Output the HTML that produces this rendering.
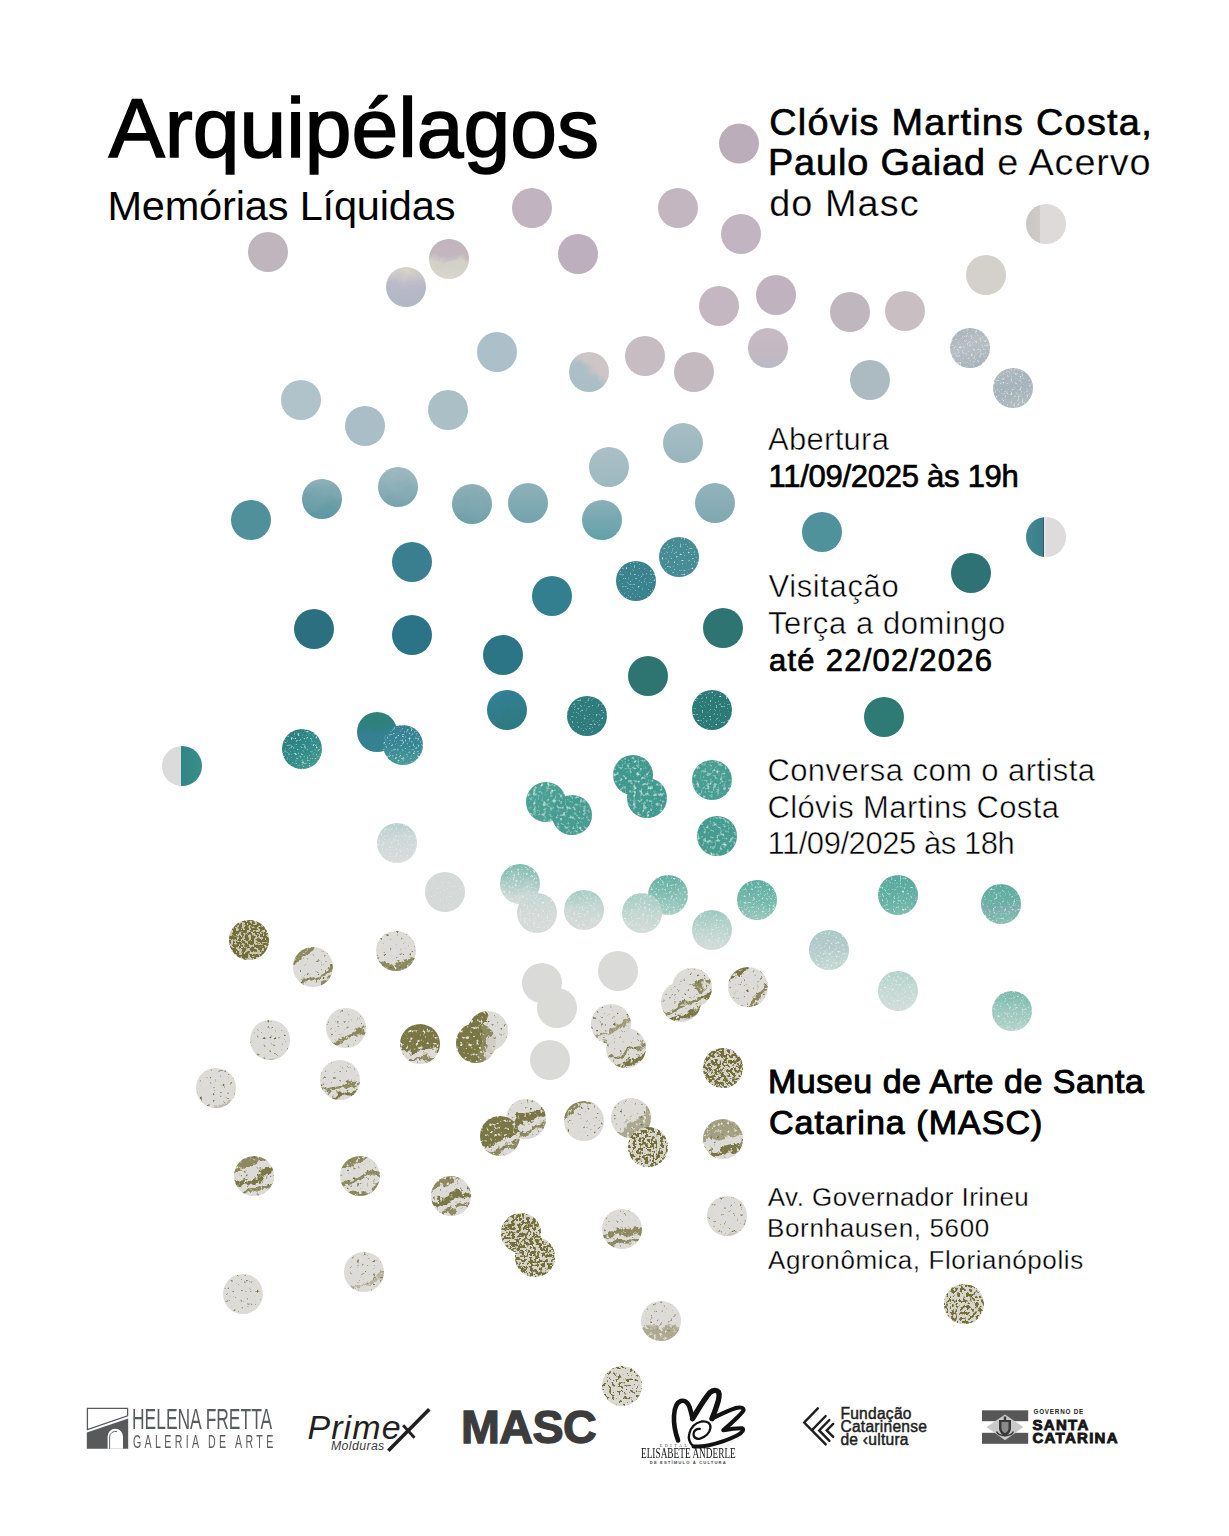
<!DOCTYPE html>
<html lang="pt-BR"><head><meta charset="utf-8"><title>Arquipélagos — Memórias Líquidas</title>
<style>
html,body{margin:0;padding:0;background:#fff}
body{width:1229px;height:1536px;position:relative;overflow:hidden;font-family:"Liberation Sans", Arial, sans-serif}
.dots{position:absolute;left:0;top:0;display:block}
.t{position:absolute;white-space:nowrap;line-height:1;font-weight:400}
.ti{-webkit-text-stroke:1.6px #000}
.lt{-webkit-text-stroke:0.5px #fff}
.lt2{-webkit-text-stroke:0.3px #fff}
.lt3{-webkit-text-stroke:0.25px #fff}
.sb{-webkit-text-stroke:0.7px #000}
.sb2{-webkit-text-stroke:1px #000}
.lg{position:absolute;display:block;overflow:visible}
.lgt{font-weight:400}
.fcc{font-size:15.6px;font-weight:400;color:#1e1e1e;-webkit-text-stroke:0.45px #1e1e1e;letter-spacing:0.25px}
.sc{font-size:15px;font-weight:700;color:#161616;-webkit-text-stroke:0.9px #161616}
</style></head><body>
<svg class="dots" width="1229" height="1536" viewBox="0 0 1229 1536"><defs><clipPath id="cc" clipPathUnits="objectBoundingBox"><circle cx=".5" cy=".5" r=".35714"/></clipPath>
<filter id="spk" x="0" y="0" width="1" height="1" color-interpolation-filters="sRGB">
<feTurbulence type="fractalNoise" baseFrequency="0.3" numOctaves="2" seed="3" result="n"/>
<feColorMatrix in="n" type="matrix" values="0 0 0 0 .88 0 0 0 0 .94 0 0 0 0 .92 2.6 0 0 0 -1.32" result="w0"/>
<feGaussianBlur in="w0" stdDeviation="0.7" result="w"/>
<feComposite in="w" in2="SourceAlpha" operator="in" result="wc"/>
<feMerge><feMergeNode in="SourceGraphic"/><feMergeNode in="wc"/></feMerge>
</filter>
<filter id="spk2" x="0" y="0" width="1" height="1" color-interpolation-filters="sRGB">
<feTurbulence type="fractalNoise" baseFrequency="0.5" numOctaves="2" seed="5" result="n"/>
<feColorMatrix in="n" type="matrix" values="0 0 0 0 .85 0 0 0 0 .93 0 0 0 0 .93 5 0 0 0 -3.15" result="w0"/>
<feGaussianBlur in="w0" stdDeviation="0.35" result="w"/>
<feComposite in="w" in2="SourceAlpha" operator="in" result="wc"/>
<feMerge><feMergeNode in="SourceGraphic"/><feMergeNode in="wc"/></feMerge>
</filter>
<filter id="ws0" x="0" y="0" width="1" height="1" color-interpolation-filters="sRGB">
<feTurbulence type="fractalNoise" baseFrequency="0.06" numOctaves="3" seed="9" result="n"/>
<feDisplacementMap in="SourceGraphic" in2="n" scale="12" xChannelSelector="R" yChannelSelector="G" result="d"/>
<feTurbulence type="fractalNoise" baseFrequency="0.45" numOctaves="2" seed="13" result="g"/>
<feColorMatrix in="g" type="matrix" values="0 0 0 0 .9 0 0 0 0 .95 0 0 0 0 .94 3.2 0 0 0 -1.8" result="gw0"/>
<feGaussianBlur in="gw0" stdDeviation="0.4" result="gw"/>
<feComposite in="gw" in2="d" operator="in" result="gwc"/>
<feMerge><feMergeNode in="d"/><feMergeNode in="gwc"/></feMerge>
</filter>
<filter id="w0" x="0" y="0" width="1" height="1" color-interpolation-filters="sRGB">
<feTurbulence type="fractalNoise" baseFrequency="0.07" numOctaves="3" seed="2" result="n"/>
<feDisplacementMap in="SourceGraphic" in2="n" scale="12" xChannelSelector="R" yChannelSelector="G"/>
</filter>
<filter id="o0" x="0" y="0" width="1" height="1" color-interpolation-filters="sRGB">
<feTurbulence type="fractalNoise" baseFrequency="0.08" numOctaves="4" seed="1" result="n"/>
<feDisplacementMap in="SourceGraphic" in2="n" scale="16" xChannelSelector="R" yChannelSelector="G" result="d"/>
<feTurbulence type="fractalNoise" baseFrequency="0.3" numOctaves="2" seed="4" result="g"/>
<feColorMatrix in="g" type="matrix" values="0 0 0 0 .88 0 0 0 0 .87 0 0 0 0 .84 6 0 0 0 -3.45" result="gl"/>
<feColorMatrix in="g" type="matrix" values="0 0 0 0 .45 0 0 0 0 .44 0 0 0 0 .27 0 -6 0 0 2.05" result="gd"/>
<feMerge><feMergeNode in="d"/><feMergeNode in="gl"/><feMergeNode in="gd"/></feMerge>
</filter>
<filter id="ws1" x="0" y="0" width="1" height="1" color-interpolation-filters="sRGB">
<feTurbulence type="fractalNoise" baseFrequency="0.06" numOctaves="3" seed="12" result="n"/>
<feDisplacementMap in="SourceGraphic" in2="n" scale="12" xChannelSelector="R" yChannelSelector="G" result="d"/>
<feTurbulence type="fractalNoise" baseFrequency="0.45" numOctaves="2" seed="16" result="g"/>
<feColorMatrix in="g" type="matrix" values="0 0 0 0 .9 0 0 0 0 .95 0 0 0 0 .94 3.2 0 0 0 -1.8" result="gw0"/>
<feGaussianBlur in="gw0" stdDeviation="0.4" result="gw"/>
<feComposite in="gw" in2="d" operator="in" result="gwc"/>
<feMerge><feMergeNode in="d"/><feMergeNode in="gwc"/></feMerge>
</filter>
<filter id="w1" x="0" y="0" width="1" height="1" color-interpolation-filters="sRGB">
<feTurbulence type="fractalNoise" baseFrequency="0.07" numOctaves="3" seed="7" result="n"/>
<feDisplacementMap in="SourceGraphic" in2="n" scale="12" xChannelSelector="R" yChannelSelector="G"/>
</filter>
<filter id="o1" x="0" y="0" width="1" height="1" color-interpolation-filters="sRGB">
<feTurbulence type="fractalNoise" baseFrequency="0.08" numOctaves="4" seed="8" result="n"/>
<feDisplacementMap in="SourceGraphic" in2="n" scale="16" xChannelSelector="R" yChannelSelector="G" result="d"/>
<feTurbulence type="fractalNoise" baseFrequency="0.3" numOctaves="2" seed="11" result="g"/>
<feColorMatrix in="g" type="matrix" values="0 0 0 0 .88 0 0 0 0 .87 0 0 0 0 .84 6 0 0 0 -3.45" result="gl"/>
<feColorMatrix in="g" type="matrix" values="0 0 0 0 .45 0 0 0 0 .44 0 0 0 0 .27 0 -6 0 0 2.05" result="gd"/>
<feMerge><feMergeNode in="d"/><feMergeNode in="gl"/><feMergeNode in="gd"/></feMerge>
</filter>
<filter id="ws2" x="0" y="0" width="1" height="1" color-interpolation-filters="sRGB">
<feTurbulence type="fractalNoise" baseFrequency="0.06" numOctaves="3" seed="15" result="n"/>
<feDisplacementMap in="SourceGraphic" in2="n" scale="12" xChannelSelector="R" yChannelSelector="G" result="d"/>
<feTurbulence type="fractalNoise" baseFrequency="0.45" numOctaves="2" seed="19" result="g"/>
<feColorMatrix in="g" type="matrix" values="0 0 0 0 .9 0 0 0 0 .95 0 0 0 0 .94 3.2 0 0 0 -1.8" result="gw0"/>
<feGaussianBlur in="gw0" stdDeviation="0.4" result="gw"/>
<feComposite in="gw" in2="d" operator="in" result="gwc"/>
<feMerge><feMergeNode in="d"/><feMergeNode in="gwc"/></feMerge>
</filter>
<filter id="w2" x="0" y="0" width="1" height="1" color-interpolation-filters="sRGB">
<feTurbulence type="fractalNoise" baseFrequency="0.07" numOctaves="3" seed="12" result="n"/>
<feDisplacementMap in="SourceGraphic" in2="n" scale="12" xChannelSelector="R" yChannelSelector="G"/>
</filter>
<filter id="o2" x="0" y="0" width="1" height="1" color-interpolation-filters="sRGB">
<feTurbulence type="fractalNoise" baseFrequency="0.08" numOctaves="4" seed="15" result="n"/>
<feDisplacementMap in="SourceGraphic" in2="n" scale="16" xChannelSelector="R" yChannelSelector="G" result="d"/>
<feTurbulence type="fractalNoise" baseFrequency="0.3" numOctaves="2" seed="18" result="g"/>
<feColorMatrix in="g" type="matrix" values="0 0 0 0 .88 0 0 0 0 .87 0 0 0 0 .84 6 0 0 0 -3.45" result="gl"/>
<feColorMatrix in="g" type="matrix" values="0 0 0 0 .45 0 0 0 0 .44 0 0 0 0 .27 0 -6 0 0 2.05" result="gd"/>
<feMerge><feMergeNode in="d"/><feMergeNode in="gl"/><feMergeNode in="gd"/></feMerge>
</filter>
<filter id="ws3" x="0" y="0" width="1" height="1" color-interpolation-filters="sRGB">
<feTurbulence type="fractalNoise" baseFrequency="0.06" numOctaves="3" seed="18" result="n"/>
<feDisplacementMap in="SourceGraphic" in2="n" scale="12" xChannelSelector="R" yChannelSelector="G" result="d"/>
<feTurbulence type="fractalNoise" baseFrequency="0.45" numOctaves="2" seed="22" result="g"/>
<feColorMatrix in="g" type="matrix" values="0 0 0 0 .9 0 0 0 0 .95 0 0 0 0 .94 3.2 0 0 0 -1.8" result="gw0"/>
<feGaussianBlur in="gw0" stdDeviation="0.4" result="gw"/>
<feComposite in="gw" in2="d" operator="in" result="gwc"/>
<feMerge><feMergeNode in="d"/><feMergeNode in="gwc"/></feMerge>
</filter>
<filter id="w3" x="0" y="0" width="1" height="1" color-interpolation-filters="sRGB">
<feTurbulence type="fractalNoise" baseFrequency="0.07" numOctaves="3" seed="17" result="n"/>
<feDisplacementMap in="SourceGraphic" in2="n" scale="12" xChannelSelector="R" yChannelSelector="G"/>
</filter>
<filter id="o3" x="0" y="0" width="1" height="1" color-interpolation-filters="sRGB">
<feTurbulence type="fractalNoise" baseFrequency="0.08" numOctaves="4" seed="22" result="n"/>
<feDisplacementMap in="SourceGraphic" in2="n" scale="16" xChannelSelector="R" yChannelSelector="G" result="d"/>
<feTurbulence type="fractalNoise" baseFrequency="0.3" numOctaves="2" seed="25" result="g"/>
<feColorMatrix in="g" type="matrix" values="0 0 0 0 .88 0 0 0 0 .87 0 0 0 0 .84 6 0 0 0 -3.45" result="gl"/>
<feColorMatrix in="g" type="matrix" values="0 0 0 0 .45 0 0 0 0 .44 0 0 0 0 .27 0 -6 0 0 2.05" result="gd"/>
<feMerge><feMergeNode in="d"/><feMergeNode in="gl"/><feMergeNode in="gd"/></feMerge>
</filter>
<filter id="pp75_21" x="0" y="0" width="1" height="1" color-interpolation-filters="sRGB">
<feTurbulence type="fractalNoise" baseFrequency="0.33" numOctaves="2" seed="21" result="n"/>
<feColorMatrix in="n" type="matrix" values="0 0 0 0 .45 0 0 0 0 .43 0 0 0 0 .22 14 0 0 0 -6.020" result="ol"/>
<feComposite in="ol" in2="SourceAlpha" operator="in" result="olc"/>
<feMerge><feMergeNode in="SourceGraphic"/><feMergeNode in="olc"/></feMerge>
</filter><filter id="pp62_21" x="0" y="0" width="1" height="1" color-interpolation-filters="sRGB">
<feTurbulence type="fractalNoise" baseFrequency="0.33" numOctaves="2" seed="21" result="n"/>
<feColorMatrix in="n" type="matrix" values="0 0 0 0 .45 0 0 0 0 .43 0 0 0 0 .22 14 0 0 0 -6.530" result="ol"/>
<feComposite in="ol" in2="SourceAlpha" operator="in" result="olc"/>
<feMerge><feMergeNode in="SourceGraphic"/><feMergeNode in="olc"/></feMerge>
</filter><filter id="pp55_24" x="0" y="0" width="1" height="1" color-interpolation-filters="sRGB">
<feTurbulence type="fractalNoise" baseFrequency="0.33" numOctaves="2" seed="24" result="n"/>
<feColorMatrix in="n" type="matrix" values="0 0 0 0 .45 0 0 0 0 .43 0 0 0 0 .22 14 0 0 0 -6.804" result="ol"/>
<feComposite in="ol" in2="SourceAlpha" operator="in" result="olc"/>
<feMerge><feMergeNode in="SourceGraphic"/><feMergeNode in="olc"/></feMerge>
</filter><filter id="pp62_20" x="0" y="0" width="1" height="1" color-interpolation-filters="sRGB">
<feTurbulence type="fractalNoise" baseFrequency="0.33" numOctaves="2" seed="20" result="n"/>
<feColorMatrix in="n" type="matrix" values="0 0 0 0 .45 0 0 0 0 .43 0 0 0 0 .22 14 0 0 0 -6.530" result="ol"/>
<feComposite in="ol" in2="SourceAlpha" operator="in" result="olc"/>
<feMerge><feMergeNode in="SourceGraphic"/><feMergeNode in="olc"/></feMerge>
</filter><filter id="pp60_21" x="0" y="0" width="1" height="1" color-interpolation-filters="sRGB">
<feTurbulence type="fractalNoise" baseFrequency="0.33" numOctaves="2" seed="21" result="n"/>
<feColorMatrix in="n" type="matrix" values="0 0 0 0 .45 0 0 0 0 .43 0 0 0 0 .22 14 0 0 0 -6.608" result="ol"/>
<feComposite in="ol" in2="SourceAlpha" operator="in" result="olc"/>
<feMerge><feMergeNode in="SourceGraphic"/><feMergeNode in="olc"/></feMerge>
</filter><filter id="pp47_24" x="0" y="0" width="1" height="1" color-interpolation-filters="sRGB">
<feTurbulence type="fractalNoise" baseFrequency="0.33" numOctaves="2" seed="24" result="n"/>
<feColorMatrix in="n" type="matrix" values="0 0 0 0 .45 0 0 0 0 .43 0 0 0 0 .22 14 0 0 0 -7.118" result="ol"/>
<feComposite in="ol" in2="SourceAlpha" operator="in" result="olc"/>
<feMerge><feMergeNode in="SourceGraphic"/><feMergeNode in="olc"/></feMerge>
</filter><filter id="pp22_21" x="0" y="0" width="1" height="1" color-interpolation-filters="sRGB">
<feTurbulence type="fractalNoise" baseFrequency="0.33" numOctaves="2" seed="21" result="n"/>
<feColorMatrix in="n" type="matrix" values="0 0 0 0 .45 0 0 0 0 .43 0 0 0 0 .22 14 0 0 0 -8.098" result="ol"/>
<feComposite in="ol" in2="SourceAlpha" operator="in" result="olc"/>
<feMerge><feMergeNode in="SourceGraphic"/><feMergeNode in="olc"/></feMerge>
</filter><linearGradient id="g3" gradientUnits="userSpaceOnUse" x1="1026.0" y1="224.0" x2="1066.0" y2="224.0"><stop offset="0%" stop-color="#cbc6c4"/><stop offset="35%" stop-color="#cfcac8"/><stop offset="35%" stop-color="#dedada"/><stop offset="100%" stop-color="#dddada"/></linearGradient><linearGradient id="g7" gradientUnits="userSpaceOnUse" x1="449.0" y1="239.0" x2="449.0" y2="279.0"><stop offset="0%" stop-color="#c1b3bf"/><stop offset="42%" stop-color="#c3b7bf"/><stop offset="56%" stop-color="#d2cfc6"/><stop offset="100%" stop-color="#d8d6ce"/></linearGradient><linearGradient id="g9" gradientUnits="userSpaceOnUse" x1="406.0" y1="267.0" x2="406.0" y2="307.0"><stop offset="0%" stop-color="#d6d3c6"/><stop offset="30%" stop-color="#c8c5c9"/><stop offset="50%" stop-color="#b8b8c8"/><stop offset="100%" stop-color="#aebac4"/></linearGradient><linearGradient id="g14" gradientUnits="userSpaceOnUse" x1="768.0" y1="328.0" x2="768.0" y2="368.0"><stop offset="0%" stop-color="#c7bac3"/><stop offset="55%" stop-color="#c3b8c2"/><stop offset="100%" stop-color="#b9bac6"/></linearGradient><linearGradient id="g15" gradientUnits="userSpaceOnUse" x1="963.2" y1="329.2" x2="976.8" y2="366.8"><stop offset="0%" stop-color="#aab5be"/><stop offset="45%" stop-color="#b9bfc4"/><stop offset="100%" stop-color="#a6b3bc"/></linearGradient><linearGradient id="g18" gradientUnits="userSpaceOnUse" x1="576.1" y1="387.3" x2="601.9" y2="356.7"><stop offset="0%" stop-color="#a9bec7"/><stop offset="45%" stop-color="#adbfc6"/><stop offset="65%" stop-color="#cdc5c6"/></linearGradient><linearGradient id="g21" gradientUnits="userSpaceOnUse" x1="1006.2" y1="369.2" x2="1019.8" y2="406.8"><stop offset="0%" stop-color="#afbac0"/><stop offset="50%" stop-color="#a5b3bb"/><stop offset="100%" stop-color="#b3bcc1"/></linearGradient><linearGradient id="g25" gradientUnits="userSpaceOnUse" x1="683.0" y1="423.0" x2="683.0" y2="463.0"><stop offset="0%" stop-color="#a8bec5"/><stop offset="100%" stop-color="#97b5bd"/></linearGradient><linearGradient id="g26" gradientUnits="userSpaceOnUse" x1="609.0" y1="447.0" x2="609.0" y2="487.0"><stop offset="0%" stop-color="#abc0c6"/><stop offset="100%" stop-color="#9db8bf"/></linearGradient><linearGradient id="g27" gradientUnits="userSpaceOnUse" x1="398.0" y1="467.0" x2="398.0" y2="507.0"><stop offset="0%" stop-color="#a0b9c0"/><stop offset="100%" stop-color="#78a4ae"/></linearGradient><linearGradient id="g28" gradientUnits="userSpaceOnUse" x1="322.0" y1="479.0" x2="322.0" y2="519.0"><stop offset="0%" stop-color="#8db0b8"/><stop offset="100%" stop-color="#5a95a1"/></linearGradient><linearGradient id="g29" gradientUnits="userSpaceOnUse" x1="528.0" y1="483.0" x2="528.0" y2="523.0"><stop offset="0%" stop-color="#90b1b9"/><stop offset="100%" stop-color="#72a3ad"/></linearGradient><linearGradient id="g30" gradientUnits="userSpaceOnUse" x1="715.0" y1="483.0" x2="715.0" y2="523.0"><stop offset="0%" stop-color="#92b3bb"/><stop offset="100%" stop-color="#7fa8b1"/></linearGradient><linearGradient id="g31" gradientUnits="userSpaceOnUse" x1="472.0" y1="484.0" x2="472.0" y2="524.0"><stop offset="0%" stop-color="#8fb0b8"/><stop offset="100%" stop-color="#6ea0aa"/></linearGradient><linearGradient id="g33" gradientUnits="userSpaceOnUse" x1="602.0" y1="500.0" x2="602.0" y2="540.0"><stop offset="0%" stop-color="#8ab0b8"/><stop offset="100%" stop-color="#62a0a9"/></linearGradient><linearGradient id="g35" gradientUnits="userSpaceOnUse" x1="1026.0" y1="537.0" x2="1066.0" y2="537.0"><stop offset="0%" stop-color="#428892"/><stop offset="43%" stop-color="#3b7e88"/><stop offset="43%" stop-color="#2d5a72"/><stop offset="46%" stop-color="#2d5a72"/><stop offset="46%" stop-color="#ece8ec"/><stop offset="52%" stop-color="#dddbdc"/></linearGradient><linearGradient id="g46" gradientUnits="userSpaceOnUse" x1="500.2" y1="691.2" x2="513.8" y2="728.8"><stop offset="0%" stop-color="#33809a"/><stop offset="60%" stop-color="#2f7c88"/><stop offset="100%" stop-color="#2c7a80"/></linearGradient><linearGradient id="g50" gradientUnits="userSpaceOnUse" x1="377.0" y1="712.0" x2="377.0" y2="752.0"><stop offset="0%" stop-color="#2d8374"/><stop offset="35%" stop-color="#2f8080"/><stop offset="60%" stop-color="#367f93"/><stop offset="100%" stop-color="#33838f"/></linearGradient><linearGradient id="g51" gradientUnits="userSpaceOnUse" x1="403.0" y1="725.0" x2="403.0" y2="765.0"><stop offset="0%" stop-color="#347f94"/><stop offset="50%" stop-color="#378797"/><stop offset="100%" stop-color="#4a9a9a"/></linearGradient><linearGradient id="g52" gradientUnits="userSpaceOnUse" x1="287.9" y1="734.9" x2="316.1" y2="763.1"><stop offset="0%" stop-color="#2b7f80"/><stop offset="50%" stop-color="#2f8a88"/><stop offset="100%" stop-color="#44988f"/></linearGradient><linearGradient id="g53" gradientUnits="userSpaceOnUse" x1="162.0" y1="766.0" x2="202.0" y2="766.0"><stop offset="0%" stop-color="#dcdbdb"/><stop offset="47%" stop-color="#dcdbdb"/><stop offset="47%" stop-color="#2f8585"/><stop offset="100%" stop-color="#3a8f8a"/></linearGradient><linearGradient id="g60" gradientUnits="userSpaceOnUse" x1="397.0" y1="823.0" x2="397.0" y2="863.0"><stop offset="0%" stop-color="#b9d0cf"/><stop offset="45%" stop-color="#cfd9d8"/><stop offset="100%" stop-color="#d8dbda"/></linearGradient><linearGradient id="g61" gradientUnits="userSpaceOnUse" x1="520.0" y1="864.0" x2="520.0" y2="904.0"><stop offset="0%" stop-color="#7cbbae"/><stop offset="45%" stop-color="#a9ccc4"/><stop offset="80%" stop-color="#cfd9d6"/><stop offset="100%" stop-color="#d6dad8"/></linearGradient><linearGradient id="g63" gradientUnits="userSpaceOnUse" x1="668.0" y1="875.0" x2="668.0" y2="915.0"><stop offset="0%" stop-color="#62b0a2"/><stop offset="50%" stop-color="#86c0b4"/><stop offset="100%" stop-color="#a9cfc6"/></linearGradient><linearGradient id="g64" gradientUnits="userSpaceOnUse" x1="898.0" y1="875.0" x2="898.0" y2="915.0"><stop offset="0%" stop-color="#55a99b"/><stop offset="50%" stop-color="#62aea2"/><stop offset="100%" stop-color="#7cbcaf"/></linearGradient><linearGradient id="g65" gradientUnits="userSpaceOnUse" x1="757.0" y1="880.0" x2="757.0" y2="920.0"><stop offset="0%" stop-color="#5aad9f"/><stop offset="50%" stop-color="#74b9ac"/><stop offset="100%" stop-color="#98c7bc"/></linearGradient><linearGradient id="g66" gradientUnits="userSpaceOnUse" x1="1001.0" y1="884.0" x2="1001.0" y2="924.0"><stop offset="0%" stop-color="#5eab9f"/><stop offset="45%" stop-color="#6ab0a5"/><stop offset="62%" stop-color="#84aeb4"/><stop offset="75%" stop-color="#79b6ab"/><stop offset="100%" stop-color="#88beb2"/></linearGradient><linearGradient id="g67" gradientUnits="userSpaceOnUse" x1="584.0" y1="890.0" x2="584.0" y2="930.0"><stop offset="0%" stop-color="#a6ccc3"/><stop offset="50%" stop-color="#c9d8d4"/><stop offset="90%" stop-color="#d6dad8"/></linearGradient><linearGradient id="g68" gradientUnits="userSpaceOnUse" x1="537.0" y1="893.0" x2="537.0" y2="933.0"><stop offset="0%" stop-color="#c4d7d2"/><stop offset="60%" stop-color="#d6dad8"/></linearGradient><linearGradient id="g69" gradientUnits="userSpaceOnUse" x1="642.0" y1="893.0" x2="642.0" y2="933.0"><stop offset="0%" stop-color="#a2ccc2"/><stop offset="50%" stop-color="#c3d7d1"/><stop offset="95%" stop-color="#d4dbd8"/></linearGradient><linearGradient id="g70" gradientUnits="userSpaceOnUse" x1="712.0" y1="910.0" x2="712.0" y2="950.0"><stop offset="0%" stop-color="#9ec9bf"/><stop offset="50%" stop-color="#bdd5cf"/><stop offset="100%" stop-color="#d2dbd8"/></linearGradient><linearGradient id="g72" gradientUnits="userSpaceOnUse" x1="829.0" y1="930.0" x2="829.0" y2="970.0"><stop offset="0%" stop-color="#a6cac3"/><stop offset="40%" stop-color="#b5c9cc"/><stop offset="60%" stop-color="#b8d1cb"/><stop offset="100%" stop-color="#c6d9d4"/></linearGradient><linearGradient id="g73" gradientUnits="userSpaceOnUse" x1="390.8" y1="931.7" x2="401.2" y2="970.3"><stop offset="0%" stop-color="#dddbd7"/><stop offset="55%" stop-color="#dddbd7"/><stop offset="72%" stop-color="#dddbd7"/><stop offset="75%" stop-color="#8c895f"/><stop offset="97%" stop-color="#8c895f"/><stop offset="100%" stop-color="#c9c4b5"/></linearGradient><linearGradient id="g74" gradientUnits="userSpaceOnUse" x1="303.0" y1="949.7" x2="323.0" y2="984.3"><stop offset="0%" stop-color="#8c895f"/><stop offset="15%" stop-color="#8c895f"/><stop offset="18%" stop-color="#dddbd7"/><stop offset="60%" stop-color="#dddbd7"/><stop offset="72%" stop-color="#dddbd7"/><stop offset="75%" stop-color="#8c895f"/><stop offset="83%" stop-color="#8c895f"/><stop offset="86%" stop-color="#dddbd7"/><stop offset="97%" stop-color="#dddbd7"/><stop offset="100%" stop-color="#8c895f"/></linearGradient><linearGradient id="g77" gradientUnits="userSpaceOnUse" x1="733.9" y1="972.9" x2="762.1" y2="1001.1"><stop offset="0%" stop-color="#7a7744"/><stop offset="11%" stop-color="#7a7744"/><stop offset="14%" stop-color="#dddbd7"/><stop offset="70%" stop-color="#dddbd7"/><stop offset="79%" stop-color="#dddbd7"/><stop offset="82%" stop-color="#8c895f"/><stop offset="89%" stop-color="#8c895f"/><stop offset="92%" stop-color="#dddbd7"/></linearGradient><linearGradient id="g78" gradientUnits="userSpaceOnUse" x1="683.5" y1="969.9" x2="700.5" y2="1006.1"><stop offset="0%" stop-color="#dddbd7"/><stop offset="40%" stop-color="#dddbd7"/><stop offset="47%" stop-color="#dddbd7"/><stop offset="50%" stop-color="#8c895f"/><stop offset="59%" stop-color="#8c895f"/><stop offset="62%" stop-color="#dddbd7"/><stop offset="75%" stop-color="#dddbd7"/><stop offset="78%" stop-color="#7a7744"/><stop offset="87%" stop-color="#7a7744"/><stop offset="90%" stop-color="#dddbd7"/></linearGradient><linearGradient id="g79" gradientUnits="userSpaceOnUse" x1="898.0" y1="971.0" x2="898.0" y2="1011.0"><stop offset="0%" stop-color="#b3d2cb"/><stop offset="50%" stop-color="#c6d9d4"/><stop offset="100%" stop-color="#d2dcd9"/></linearGradient><linearGradient id="g80" gradientUnits="userSpaceOnUse" x1="672.5" y1="983.9" x2="689.5" y2="1020.1"><stop offset="0%" stop-color="#dddbd7"/><stop offset="45%" stop-color="#dddbd7"/><stop offset="55%" stop-color="#dddbd7"/><stop offset="58%" stop-color="#8c895f"/><stop offset="65%" stop-color="#8c895f"/><stop offset="68%" stop-color="#dddbd7"/><stop offset="79%" stop-color="#dddbd7"/><stop offset="82%" stop-color="#7a7744"/><stop offset="92%" stop-color="#7a7744"/><stop offset="95%" stop-color="#dddbd7"/></linearGradient><linearGradient id="g82" gradientUnits="userSpaceOnUse" x1="1012.0" y1="991.0" x2="1012.0" y2="1031.0"><stop offset="0%" stop-color="#7ab9ac"/><stop offset="50%" stop-color="#9ac8be"/><stop offset="100%" stop-color="#b5d3cc"/></linearGradient><linearGradient id="g83" gradientUnits="userSpaceOnUse" x1="604.2" y1="1005.2" x2="617.8" y2="1042.8"><stop offset="0%" stop-color="#dddbd7"/><stop offset="52%" stop-color="#dddbd7"/><stop offset="55%" stop-color="#dddbd7"/><stop offset="58%" stop-color="#a09878"/><stop offset="63%" stop-color="#a09878"/><stop offset="66%" stop-color="#dddbd7"/><stop offset="80%" stop-color="#dddbd7"/><stop offset="87%" stop-color="#dddbd7"/><stop offset="90%" stop-color="#8c895f"/></linearGradient><linearGradient id="g84" gradientUnits="userSpaceOnUse" x1="339.2" y1="1009.2" x2="352.8" y2="1046.8"><stop offset="0%" stop-color="#dddbd7"/><stop offset="55%" stop-color="#dddbd7"/><stop offset="65%" stop-color="#dddbd7"/><stop offset="68%" stop-color="#8c895f"/><stop offset="77%" stop-color="#8c895f"/><stop offset="80%" stop-color="#dddbd7"/></linearGradient><linearGradient id="g85" gradientUnits="userSpaceOnUse" x1="468.3" y1="1027.5" x2="507.7" y2="1034.5"><stop offset="0%" stop-color="#7a7744"/><stop offset="20%" stop-color="#7a7744"/><stop offset="35%" stop-color="#7a7744"/><stop offset="38%" stop-color="#dddbd7"/></linearGradient><linearGradient id="g86" gradientUnits="userSpaceOnUse" x1="263.2" y1="1021.2" x2="276.8" y2="1058.8"><stop offset="0%" stop-color="#dddbd7"/><stop offset="70%" stop-color="#dddbd7"/><stop offset="97%" stop-color="#dddbd7"/><stop offset="100%" stop-color="#b9b5a3"/></linearGradient><linearGradient id="g87" gradientUnits="userSpaceOnUse" x1="456.3" y1="1039.5" x2="495.7" y2="1046.5"><stop offset="0%" stop-color="#7a7744"/><stop offset="50%" stop-color="#7a7744"/><stop offset="59%" stop-color="#7a7744"/><stop offset="62%" stop-color="#8c895f"/><stop offset="75%" stop-color="#8c895f"/><stop offset="78%" stop-color="#cfccc2"/></linearGradient><linearGradient id="g88" gradientUnits="userSpaceOnUse" x1="418.3" y1="1024.1" x2="421.7" y2="1063.9"><stop offset="0%" stop-color="#7a7744"/><stop offset="55%" stop-color="#7a7744"/><stop offset="65%" stop-color="#7a7744"/><stop offset="68%" stop-color="#dddbd7"/><stop offset="79%" stop-color="#dddbd7"/><stop offset="82%" stop-color="#8c895f"/><stop offset="89%" stop-color="#8c895f"/><stop offset="92%" stop-color="#dddbd7"/></linearGradient><linearGradient id="g89" gradientUnits="userSpaceOnUse" x1="619.2" y1="1029.2" x2="632.8" y2="1066.8"><stop offset="0%" stop-color="#dddbd7"/><stop offset="45%" stop-color="#dddbd7"/><stop offset="55%" stop-color="#dddbd7"/><stop offset="58%" stop-color="#8c895f"/><stop offset="63%" stop-color="#8c895f"/><stop offset="66%" stop-color="#dddbd7"/><stop offset="79%" stop-color="#dddbd7"/><stop offset="82%" stop-color="#7a7744"/><stop offset="93%" stop-color="#7a7744"/><stop offset="96%" stop-color="#dddbd7"/></linearGradient><linearGradient id="g92" gradientUnits="userSpaceOnUse" x1="336.5" y1="1060.3" x2="343.5" y2="1099.7"><stop offset="0%" stop-color="#dddbd7"/><stop offset="52%" stop-color="#dddbd7"/><stop offset="61%" stop-color="#dddbd7"/><stop offset="64%" stop-color="#8c895f"/><stop offset="71%" stop-color="#8c895f"/><stop offset="74%" stop-color="#dddbd7"/><stop offset="83%" stop-color="#dddbd7"/><stop offset="86%" stop-color="#7a7744"/><stop offset="93%" stop-color="#7a7744"/><stop offset="96%" stop-color="#dddbd7"/></linearGradient><linearGradient id="g93" gradientUnits="userSpaceOnUse" x1="209.2" y1="1069.2" x2="222.8" y2="1106.8"><stop offset="0%" stop-color="#dddbd7"/><stop offset="85%" stop-color="#dddbd7"/><stop offset="97%" stop-color="#dddbd7"/><stop offset="100%" stop-color="#c0bcaa"/></linearGradient><linearGradient id="g94" gradientUnits="userSpaceOnUse" x1="619.5" y1="1101.6" x2="642.5" y2="1134.4"><stop offset="0%" stop-color="#dddbd7"/><stop offset="40%" stop-color="#dddbd7"/><stop offset="55%" stop-color="#dddbd7"/><stop offset="58%" stop-color="#aca890"/><stop offset="97%" stop-color="#aca890"/><stop offset="100%" stop-color="#b0ac94"/></linearGradient><linearGradient id="g95" gradientUnits="userSpaceOnUse" x1="517.5" y1="1100.9" x2="534.5" y2="1137.1"><stop offset="0%" stop-color="#dddbd7"/><stop offset="22%" stop-color="#dddbd7"/><stop offset="35%" stop-color="#dddbd7"/><stop offset="38%" stop-color="#7a7744"/><stop offset="52%" stop-color="#7a7744"/><stop offset="59%" stop-color="#7a7744"/><stop offset="62%" stop-color="#dddbd7"/><stop offset="75%" stop-color="#dddbd7"/><stop offset="78%" stop-color="#8c895f"/><stop offset="87%" stop-color="#8c895f"/><stop offset="90%" stop-color="#dddbd7"/></linearGradient><linearGradient id="g96" gradientUnits="userSpaceOnUse" x1="577.2" y1="1102.2" x2="590.8" y2="1139.8"><stop offset="0%" stop-color="#8c895f"/><stop offset="17%" stop-color="#8c895f"/><stop offset="20%" stop-color="#dddbd7"/></linearGradient><linearGradient id="g97" gradientUnits="userSpaceOnUse" x1="493.2" y1="1117.2" x2="506.8" y2="1154.8"><stop offset="0%" stop-color="#7a7744"/><stop offset="50%" stop-color="#7a7744"/><stop offset="59%" stop-color="#7a7744"/><stop offset="62%" stop-color="#dddbd7"/><stop offset="75%" stop-color="#dddbd7"/><stop offset="78%" stop-color="#8c895f"/><stop offset="87%" stop-color="#8c895f"/><stop offset="90%" stop-color="#dddbd7"/></linearGradient><linearGradient id="g98" gradientUnits="userSpaceOnUse" x1="719.5" y1="1119.3" x2="726.5" y2="1158.7"><stop offset="0%" stop-color="#a29e80"/><stop offset="35%" stop-color="#a29e80"/><stop offset="47%" stop-color="#a29e80"/><stop offset="50%" stop-color="#dddbd7"/><stop offset="58%" stop-color="#dddbd7"/><stop offset="69%" stop-color="#dddbd7"/><stop offset="72%" stop-color="#7a7744"/><stop offset="85%" stop-color="#7a7744"/><stop offset="88%" stop-color="#dddbd7"/></linearGradient><linearGradient id="g100" gradientUnits="userSpaceOnUse" x1="247.2" y1="1157.2" x2="260.8" y2="1194.8"><stop offset="0%" stop-color="#8c895f"/><stop offset="19%" stop-color="#8c895f"/><stop offset="22%" stop-color="#dddbd7"/><stop offset="35%" stop-color="#dddbd7"/><stop offset="47%" stop-color="#dddbd7"/><stop offset="50%" stop-color="#7a7744"/><stop offset="61%" stop-color="#7a7744"/><stop offset="64%" stop-color="#dddbd7"/><stop offset="77%" stop-color="#dddbd7"/><stop offset="80%" stop-color="#8c895f"/><stop offset="89%" stop-color="#8c895f"/><stop offset="92%" stop-color="#dddbd7"/></linearGradient><linearGradient id="g101" gradientUnits="userSpaceOnUse" x1="353.2" y1="1157.2" x2="366.8" y2="1194.8"><stop offset="0%" stop-color="#8c895f"/><stop offset="17%" stop-color="#8c895f"/><stop offset="20%" stop-color="#dddbd7"/><stop offset="40%" stop-color="#dddbd7"/><stop offset="49%" stop-color="#dddbd7"/><stop offset="52%" stop-color="#8c895f"/><stop offset="61%" stop-color="#8c895f"/><stop offset="64%" stop-color="#dddbd7"/><stop offset="75%" stop-color="#dddbd7"/><stop offset="85%" stop-color="#dddbd7"/><stop offset="88%" stop-color="#8c895f"/></linearGradient><linearGradient id="g102" gradientUnits="userSpaceOnUse" x1="444.2" y1="1177.2" x2="457.8" y2="1214.8"><stop offset="0%" stop-color="#8c895f"/><stop offset="17%" stop-color="#8c895f"/><stop offset="20%" stop-color="#dddbd7"/><stop offset="38%" stop-color="#dddbd7"/><stop offset="47%" stop-color="#dddbd7"/><stop offset="50%" stop-color="#7a7744"/><stop offset="61%" stop-color="#7a7744"/><stop offset="64%" stop-color="#dddbd7"/><stop offset="77%" stop-color="#dddbd7"/><stop offset="80%" stop-color="#8c895f"/><stop offset="89%" stop-color="#8c895f"/><stop offset="92%" stop-color="#dddbd7"/></linearGradient><linearGradient id="g103" gradientUnits="userSpaceOnUse" x1="727.0" y1="1196.0" x2="727.0" y2="1236.0"><stop offset="0%" stop-color="#dddbd7"/><stop offset="80%" stop-color="#dddbd7"/><stop offset="97%" stop-color="#dddbd7"/><stop offset="100%" stop-color="#c9c6b8"/></linearGradient><linearGradient id="g104" gradientUnits="userSpaceOnUse" x1="618.5" y1="1209.3" x2="625.5" y2="1248.7"><stop offset="0%" stop-color="#dddbd7"/><stop offset="40%" stop-color="#dddbd7"/><stop offset="52%" stop-color="#dddbd7"/><stop offset="55%" stop-color="#8c895f"/><stop offset="65%" stop-color="#8c895f"/><stop offset="68%" stop-color="#dddbd7"/><stop offset="81%" stop-color="#dddbd7"/><stop offset="84%" stop-color="#8c895f"/><stop offset="93%" stop-color="#8c895f"/><stop offset="96%" stop-color="#dddbd7"/></linearGradient><linearGradient id="g107" gradientUnits="userSpaceOnUse" x1="357.2" y1="1253.2" x2="370.8" y2="1290.8"><stop offset="0%" stop-color="#dddbd7"/><stop offset="60%" stop-color="#dddbd7"/><stop offset="69%" stop-color="#dddbd7"/><stop offset="72%" stop-color="#b8b4a0"/><stop offset="81%" stop-color="#b8b4a0"/><stop offset="84%" stop-color="#dddbd7"/></linearGradient><linearGradient id="g108" gradientUnits="userSpaceOnUse" x1="236.2" y1="1275.2" x2="249.8" y2="1312.8"><stop offset="0%" stop-color="#dddbd7"/><stop offset="90%" stop-color="#dddbd7"/></linearGradient><linearGradient id="g110" gradientUnits="userSpaceOnUse" x1="661.0" y1="1301.0" x2="661.0" y2="1341.0"><stop offset="0%" stop-color="#dddbd7"/><stop offset="45%" stop-color="#dddbd7"/><stop offset="59%" stop-color="#dddbd7"/><stop offset="62%" stop-color="#aeaa92"/><stop offset="97%" stop-color="#aeaa92"/><stop offset="100%" stop-color="#b3af99"/></linearGradient></defs>
<circle cx="739" cy="143.6" r="20" fill="#bcadbb"/>
<circle cx="532" cy="208" r="20" fill="#c1b4c0"/>
<circle cx="678" cy="208" r="20" fill="#c3b6c1"/>
<circle cx="1046" cy="224" r="20" fill="url(#g3)"/>
<circle cx="741" cy="234" r="20" fill="#c2b5c1"/>
<circle cx="268" cy="252" r="20" fill="#c0b5bd"/>
<circle cx="578" cy="254" r="20" fill="#bdafbe"/>
<rect x="421" y="231" width="56" height="56" fill="url(#g7)" filter="url(#w3)" clip-path="url(#cc)"/>
<circle cx="986" cy="275" r="20" fill="#d4d1ca"/>
<rect x="378" y="259" width="56" height="56" fill="url(#g9)" filter="url(#w1)" clip-path="url(#cc)"/>
<circle cx="776" cy="295" r="20" fill="#c1b2bf"/>
<circle cx="719" cy="306" r="20" fill="#c4b7c2"/>
<circle cx="905" cy="311" r="20" fill="#c9bfc2"/>
<circle cx="850" cy="312" r="20" fill="#c0b6bd"/>
<circle cx="768" cy="348" r="20" fill="url(#g14)"/>
<rect x="942" y="320" width="56" height="56" fill="url(#g15)" filter="url(#ws3)" clip-path="url(#cc)"/>
<circle cx="497" cy="352" r="20" fill="#abc0c8"/>
<circle cx="645" cy="356" r="20" fill="#c6bcc1"/>
<rect x="561" y="344" width="56" height="56" fill="url(#g18)" filter="url(#w2)" clip-path="url(#cc)"/>
<circle cx="694" cy="372" r="20" fill="#c4b9be"/>
<circle cx="870" cy="380" r="20" fill="#abbbc1"/>
<rect x="985" y="360" width="56" height="56" fill="url(#g21)" filter="url(#ws1)" clip-path="url(#cc)"/>
<circle cx="301" cy="400" r="20" fill="#b0c3ca"/>
<circle cx="448" cy="410" r="20" fill="#abbfc7"/>
<circle cx="365" cy="426" r="20" fill="#a9bec6"/>
<circle cx="683" cy="443" r="20" fill="url(#g25)"/>
<circle cx="609" cy="467" r="20" fill="url(#g26)"/>
<rect x="370" y="459" width="56" height="56" fill="url(#g27)" filter="url(#w3)" clip-path="url(#cc)"/>
<rect x="294" y="471" width="56" height="56" fill="url(#g28)" filter="url(#w0)" clip-path="url(#cc)"/>
<circle cx="528" cy="503" r="20" fill="url(#g29)"/>
<circle cx="715" cy="503" r="20" fill="url(#g30)"/>
<rect x="444" y="476" width="56" height="56" fill="url(#g31)" filter="url(#w3)" clip-path="url(#cc)"/>
<circle cx="251" cy="520" r="20" fill="#50909b"/>
<circle cx="602" cy="520" r="20" fill="url(#g33)"/>
<circle cx="822" cy="532" r="20" fill="#4f929c"/>
<circle cx="1046" cy="537" r="20" fill="url(#g35)"/>
<circle cx="679" cy="557" r="20" fill="#478c95" filter="url(#spk2)"/>
<circle cx="412" cy="562" r="20" fill="#3a7f8f"/>
<circle cx="971" cy="573" r="20" fill="#2f7276"/>
<circle cx="636" cy="581" r="20" fill="#3a828d" filter="url(#spk2)"/>
<circle cx="552" cy="596" r="20" fill="#337f8f"/>
<circle cx="723" cy="628" r="20" fill="#2e7473"/>
<circle cx="314" cy="629" r="20" fill="#2b6f80"/>
<circle cx="412" cy="635" r="20" fill="#2b7386"/>
<circle cx="503" cy="655" r="20" fill="#2c7587"/>
<circle cx="648" cy="676" r="20" fill="#2e7572"/>
<rect x="479" y="682" width="56" height="56" fill="url(#g46)" filter="url(#w2)" clip-path="url(#cc)"/>
<circle cx="712" cy="710" r="20" fill="#2c7a75" filter="url(#spk2)"/>
<circle cx="587" cy="716" r="20" fill="#2e7d7c" filter="url(#spk2)"/>
<circle cx="884" cy="717" r="20" fill="#2d7b74"/>
<rect x="349" y="704" width="56" height="56" fill="url(#g50)" filter="url(#w2)" clip-path="url(#cc)"/>
<rect x="375" y="717" width="56" height="56" fill="url(#g51)" filter="url(#ws3)" clip-path="url(#cc)"/>
<rect x="274" y="721" width="56" height="56" fill="url(#g52)" filter="url(#ws0)" clip-path="url(#cc)"/>
<circle cx="182" cy="766" r="20" fill="url(#g53)"/>
<circle cx="633" cy="775" r="20" fill="#3f988e" filter="url(#spk)"/>
<circle cx="712" cy="780" r="20" fill="#489d92" filter="url(#spk)"/>
<circle cx="647" cy="798" r="20" fill="#41998f" filter="url(#spk)"/>
<circle cx="546" cy="802" r="20" fill="#4aa094" filter="url(#spk)"/>
<circle cx="572" cy="815" r="20" fill="#469c91" filter="url(#spk)"/>
<circle cx="717" cy="836" r="20" fill="#449b8f" filter="url(#spk)"/>
<rect x="369" y="815" width="56" height="56" fill="url(#g60)" filter="url(#ws0)" clip-path="url(#cc)"/>
<rect x="492" y="856" width="56" height="56" fill="url(#g61)" filter="url(#ws1)" clip-path="url(#cc)"/>
<circle cx="445" cy="892" r="20" fill="#d5d9d7" filter="url(#spk2)"/>
<rect x="640" y="867" width="56" height="56" fill="url(#g63)" filter="url(#ws3)" clip-path="url(#cc)"/>
<rect x="870" y="867" width="56" height="56" fill="url(#g64)" filter="url(#ws0)" clip-path="url(#cc)"/>
<rect x="729" y="872" width="56" height="56" fill="url(#g65)" filter="url(#ws1)" clip-path="url(#cc)"/>
<rect x="973" y="876" width="56" height="56" fill="url(#g66)" filter="url(#ws2)" clip-path="url(#cc)"/>
<rect x="556" y="882" width="56" height="56" fill="url(#g67)" filter="url(#ws3)" clip-path="url(#cc)"/>
<rect x="509" y="885" width="56" height="56" fill="url(#g68)" filter="url(#ws0)" clip-path="url(#cc)"/>
<rect x="614" y="885" width="56" height="56" fill="url(#g69)" filter="url(#ws1)" clip-path="url(#cc)"/>
<rect x="684" y="902" width="56" height="56" fill="url(#g70)" filter="url(#ws2)" clip-path="url(#cc)"/>
<circle cx="249" cy="940" r="20" fill="#c9c5b5" filter="url(#pp75_21)"/>
<rect x="801" y="922" width="56" height="56" fill="url(#g72)" filter="url(#ws0)" clip-path="url(#cc)"/>
<rect x="368" y="923" width="56" height="56" fill="url(#g73)" filter="url(#o1)" clip-path="url(#cc)"/>
<rect x="285" y="939" width="56" height="56" fill="url(#g74)" filter="url(#o2)" clip-path="url(#cc)"/>
<circle cx="618" cy="971" r="20" fill="#dadad8"/>
<circle cx="542" cy="983" r="20" fill="#dadad8"/>
<rect x="720" y="959" width="56" height="56" fill="url(#g77)" filter="url(#o1)" clip-path="url(#cc)"/>
<rect x="664" y="960" width="56" height="56" fill="url(#g78)" filter="url(#o2)" clip-path="url(#cc)"/>
<rect x="870" y="963" width="56" height="56" fill="url(#g79)" filter="url(#ws3)" clip-path="url(#cc)"/>
<rect x="653" y="974" width="56" height="56" fill="url(#g80)" filter="url(#o0)" clip-path="url(#cc)"/>
<circle cx="557" cy="1008" r="20" fill="#dadad7"/>
<rect x="984" y="983" width="56" height="56" fill="url(#g82)" filter="url(#ws2)" clip-path="url(#cc)"/>
<rect x="583" y="996" width="56" height="56" fill="url(#g83)" filter="url(#o3)" clip-path="url(#cc)"/>
<rect x="318" y="1000" width="56" height="56" fill="url(#g84)" filter="url(#o0)" clip-path="url(#cc)"/>
<rect x="460" y="1003" width="56" height="56" fill="url(#g85)" filter="url(#o1)" clip-path="url(#cc)"/>
<rect x="242" y="1012" width="56" height="56" fill="url(#g86)" filter="url(#o2)" clip-path="url(#cc)"/>
<rect x="448" y="1015" width="56" height="56" fill="url(#g87)" filter="url(#o3)" clip-path="url(#cc)"/>
<rect x="392" y="1016" width="56" height="56" fill="url(#g88)" filter="url(#o0)" clip-path="url(#cc)"/>
<rect x="598" y="1020" width="56" height="56" fill="url(#g89)" filter="url(#o1)" clip-path="url(#cc)"/>
<circle cx="550" cy="1060" r="20" fill="#dadad8"/>
<circle cx="723" cy="1068" r="20" fill="#d6d3ca" filter="url(#pp62_21)"/>
<rect x="312" y="1052" width="56" height="56" fill="url(#g92)" filter="url(#o0)" clip-path="url(#cc)"/>
<rect x="188" y="1060" width="56" height="56" fill="url(#g93)" filter="url(#o1)" clip-path="url(#cc)"/>
<rect x="603" y="1090" width="56" height="56" fill="url(#g94)" filter="url(#o2)" clip-path="url(#cc)"/>
<rect x="498" y="1091" width="56" height="56" fill="url(#g95)" filter="url(#o3)" clip-path="url(#cc)"/>
<rect x="556" y="1093" width="56" height="56" fill="url(#g96)" filter="url(#o0)" clip-path="url(#cc)"/>
<rect x="472" y="1108" width="56" height="56" fill="url(#g97)" filter="url(#o1)" clip-path="url(#cc)"/>
<rect x="695" y="1111" width="56" height="56" fill="url(#g98)" filter="url(#o2)" clip-path="url(#cc)"/>
<circle cx="648" cy="1147" r="20" fill="#d8d5cd" filter="url(#pp55_24)"/>
<rect x="226" y="1148" width="56" height="56" fill="url(#g100)" filter="url(#o0)" clip-path="url(#cc)"/>
<rect x="332" y="1148" width="56" height="56" fill="url(#g101)" filter="url(#o1)" clip-path="url(#cc)"/>
<rect x="423" y="1168" width="56" height="56" fill="url(#g102)" filter="url(#o2)" clip-path="url(#cc)"/>
<rect x="699" y="1188" width="56" height="56" fill="url(#g103)" filter="url(#o3)" clip-path="url(#cc)"/>
<rect x="594" y="1201" width="56" height="56" fill="url(#g104)" filter="url(#o0)" clip-path="url(#cc)"/>
<circle cx="521" cy="1233" r="20" fill="#d6d3ca" filter="url(#pp62_20)"/>
<circle cx="535" cy="1257" r="20" fill="#d6d3ca" filter="url(#pp60_21)"/>
<rect x="336" y="1244" width="56" height="56" fill="url(#g107)" filter="url(#o3)" clip-path="url(#cc)"/>
<rect x="215" y="1266" width="56" height="56" fill="url(#g108)" filter="url(#o0)" clip-path="url(#cc)"/>
<circle cx="964" cy="1304" r="20" fill="#d8d5cd" filter="url(#pp47_24)"/>
<rect x="633" y="1293" width="56" height="56" fill="url(#g110)" filter="url(#o2)" clip-path="url(#cc)"/>
<circle cx="622" cy="1386" r="20" fill="#dbd8d2" filter="url(#pp22_21)"/>
</svg>
<div class="t ti" style="left:108.80px;top:85.90px;font-size:84px;letter-spacing:-0.018px;color:#000">Arquipélagos</div>
<div class="t rg" style="left:107.40px;top:184.62px;font-size:41.5px;letter-spacing:-0.162px;color:#000">Memórias Líquidas</div>
<div class="t sb" style="left:769.20px;top:103.87px;font-size:37.8px;letter-spacing:1.270px;color:#000">Clóvis Martins Costa,</div>
<div class="t lt3" style="left:768.00px;top:144.47px;font-size:37.8px;letter-spacing:0.895px;color:#000"><span class="sb">Paulo Gaiad</span> e Acervo</div>
<div class="t lt3" style="left:769.20px;top:185.47px;font-size:37.8px;letter-spacing:1.100px;color:#000">do Masc</div>
<div class="t lt" style="left:768.00px;top:424.25px;font-size:31px;letter-spacing:0.286px;color:#000">Abertura</div>
<div class="t sb" style="left:768.60px;top:460.65px;font-size:31px;letter-spacing:-0.269px;color:#000">11/09/2025 às 19h</div>
<div class="t lt" style="left:768.40px;top:571.35px;font-size:31px;letter-spacing:0.625px;color:#000">Visitação</div>
<div class="t lt" style="left:768.00px;top:608.05px;font-size:31px;letter-spacing:0.579px;color:#000">Terça a domingo</div>
<div class="t sb" style="left:769.00px;top:644.65px;font-size:31px;letter-spacing:1.246px;color:#000">até 22/02/2026</div>
<div class="t lt" style="left:767.40px;top:754.95px;font-size:31px;letter-spacing:0.424px;color:#000">Conversa com o artista</div>
<div class="t lt" style="left:767.40px;top:791.65px;font-size:31px;letter-spacing:0.384px;color:#000">Clóvis Martins Costa</div>
<div class="t lt" style="left:767.40px;top:828.45px;font-size:31px;letter-spacing:-0.444px;color:#000">11/09/2025 às 18h</div>
<div class="t sb2" style="left:768.00px;top:1063.80px;font-size:34px;letter-spacing:0.524px;color:#000">Museu de Arte de Santa</div>
<div class="t sb2" style="left:769.00px;top:1104.90px;font-size:34px;letter-spacing:1.036px;color:#000">Catarina (MASC)</div>
<div class="t lt2" style="left:767.80px;top:1184.10px;font-size:26px;letter-spacing:0.450px;color:#000">Av. Governador Irineu</div>
<div class="t lt2" style="left:767.00px;top:1215.30px;font-size:26px;letter-spacing:0.653px;color:#000">Bornhausen, 5600</div>
<div class="t lt2" style="left:768.00px;top:1247.10px;font-size:26px;letter-spacing:0.608px;color:#000">Agronômica, Florianópolis</div>
<!-- Helena Fretta -->
<svg class="lg" style="left:86px;top:1407px" width="44" height="44" viewBox="0 0 44 44">
<path d="M1.4 22.6 V1.4 H41.6 V8.8 Z" fill="none" stroke="#58595b" stroke-width="1.3"/>
<path d="M0.8 25.6 L42.2 11.6 V41.8 H0.8 Z" fill="#58595b"/>
<path d="M21.6 41.8 V29.5 A7.7 7.7 0 0 1 37 29.5 V41.8 Z" fill="#fff"/>
<path d="M23.6 41.8 V30 A5.8 5.8 0 0 1 31 24.6" fill="none" stroke="#58595b" stroke-width="0.9"/>
</svg>
<div class="t lgt" style="left:131.5px;top:1404.1px;font-size:30px;color:#5a5b5d;transform:scaleX(0.581);transform-origin:0 0">HELENA FRETTA</div>
<div class="t lgt" style="left:132.6px;top:1433.7px;font-size:17.7px;color:#5a5b5d;letter-spacing:5.55px;transform:scaleX(0.6);transform-origin:0 0">GALERIA DE ARTE</div>
<!-- Primex -->
<div class="t" style="left:307.4px;top:1409.5px;font-size:34px;font-style:italic;letter-spacing:1.1px;color:#231f20">Prime</div>
<svg class="lg" style="left:380px;top:1405px" width="54" height="50" viewBox="0 0 54 50">
<path d="M8.3 45.8 L49.3 4.2" stroke="#231f20" stroke-width="3.6" stroke-linecap="butt"/>
<path d="M23.1 20.2 L34.5 32.7" stroke="#231f20" stroke-width="2.8"/>
</svg>
<div class="t" style="left:330.9px;top:1440.4px;font-size:12.3px;font-style:italic;letter-spacing:0.4px;color:#3a3a3a">Molduras</div>
<!-- MASC -->
<div class="t" style="left:461px;top:1404px;font-size:46.7px;font-weight:700;color:#3c3c3c;-webkit-text-stroke:1.3px #3c3c3c;letter-spacing:-0.6px">MASC</div>
<!-- Elisabete Anderle -->
<svg class="lg" style="left:665px;top:1386px" width="86" height="64" viewBox="0 0 86 64">
<g fill="none" stroke="#111" stroke-linecap="round" stroke-linejoin="round">
<path d="M13.1 54.5 C10 46 8.6 38 9 30 C9.4 22 11.5 16.5 15.8 15 C20 14 23 17 24.5 21 C25.8 25 26.6 29 27.6 32.6" stroke-width="4.6"/>
<path d="M27.6 32.6 C33 24 39 13 45 6.5 C48 4 51.5 3.6 53.5 6 C55 9 53.5 15 51.5 20.5 C50 25 48.5 29 47 32.6" stroke-width="5.4"/>
<path d="M47 32.6 C54 29 62 25 70.8 22 C75 20.8 78.5 21.5 78.6 24 C78 27 70 34 58.2 44.3 C65 43 72 42 77 42.2 C79.5 43 78 46.5 72 49.5 C63 54 52 57.5 43 59.5 C38 60.5 33 60.8 28.5 60.4" stroke-width="4"/>
<path d="M28.5 60.4 C24.5 57 23 53 24.2 48 C25.5 42 30 37 36.5 35.5 C42 34.5 46 37.5 45.4 42 C44.8 47 40 51 35 52.6 C31 53.5 28.3 51 28.5 48 C28.8 44.5 31.5 42.6 34.8 42.9" stroke-width="2.3"/>
</g>
</svg>
<div class="t" style="left:659.8px;top:1444px;font-size:4px;letter-spacing:2.6px;color:#333;font-family:'Liberation Serif',serif">EDITAL</div>
<div class="t" style="left:640.5px;top:1446.2px;font-size:15px;color:#111;font-family:'Liberation Serif',serif;transform:scaleX(0.62);transform-origin:0 0;letter-spacing:0px">ELISABETE ANDERLE</div>
<div class="t" style="left:649.8px;top:1460.6px;font-size:4.2px;letter-spacing:1.1px;font-weight:700;color:#444">DE ESTÍMULO À CULTURA</div>
<!-- Fundacao Catarinense de Cultura -->
<svg class="lg" style="left:800px;top:1405px" width="38" height="44" viewBox="0 0 38 44">
<g fill="none" stroke="#1e1e1e" stroke-width="2.4" stroke-linecap="round" stroke-linejoin="miter">
<path d="M17.8 3.3 L4.2 17.5 L25.7 39.4"/>
<path d="M25.7 11 L12.7 24.3"/>
<path d="M29.4 15 L19.2 25.4 L29.4 35.8"/>
<path d="M33.2 18.9 L26.7 25.4 L33.2 31.9"/>
</g>
</svg>
<div class="t fcc" style="left:840.4px;top:1405.8px">Fundação</div>
<div class="t fcc" style="left:840.4px;top:1418.7px">Catarinense</div>
<div class="t fcc" style="left:840.4px;top:1431.7px">de ‹ultura</div>
<!-- Governo de Santa Catarina -->
<svg class="lg" style="left:982px;top:1409.5px" width="47" height="34" viewBox="0 0 47 34">
<rect x="0" y="0.3" width="46.2" height="10.9" fill="#575757"/>
<rect x="0" y="22.8" width="46.2" height="11" fill="#575757"/>
<path d="M4.6 17.1 L23 4.5 L41.3 17.1 L23 30.2 Z" fill="#c9c9c9"/>
<path d="M17 10 H29 V18 C29 22 26 25 23 26.5 C20 25 17 22 17 18 Z" fill="#3a3a3a"/>
<path d="M19.5 12 H26.5 V18 C26.5 20.5 25 22.2 23 23.2 C21 22.2 19.5 20.5 19.5 18 Z" fill="#8a8a8a"/>
<rect x="21.8" y="6.5" width="2.4" height="3.5" fill="#3a3a3a"/>
<path d="M14.5 21.5 C17 27 29 27 31.5 21.5" fill="none" stroke="#3a3a3a" stroke-width="1.6"/>
</svg>
<div class="t" style="left:1033.5px;top:1409.4px;font-size:6.3px;font-weight:700;letter-spacing:0.78px;color:#222">GOVERNO DE</div>
<div class="t sc" style="left:1032.4px;top:1416.6px;letter-spacing:1.35px">SANTA</div>
<div class="t sc" style="left:1032.4px;top:1430.3px;letter-spacing:1.3px">CATARINA</div>

</body></html>
